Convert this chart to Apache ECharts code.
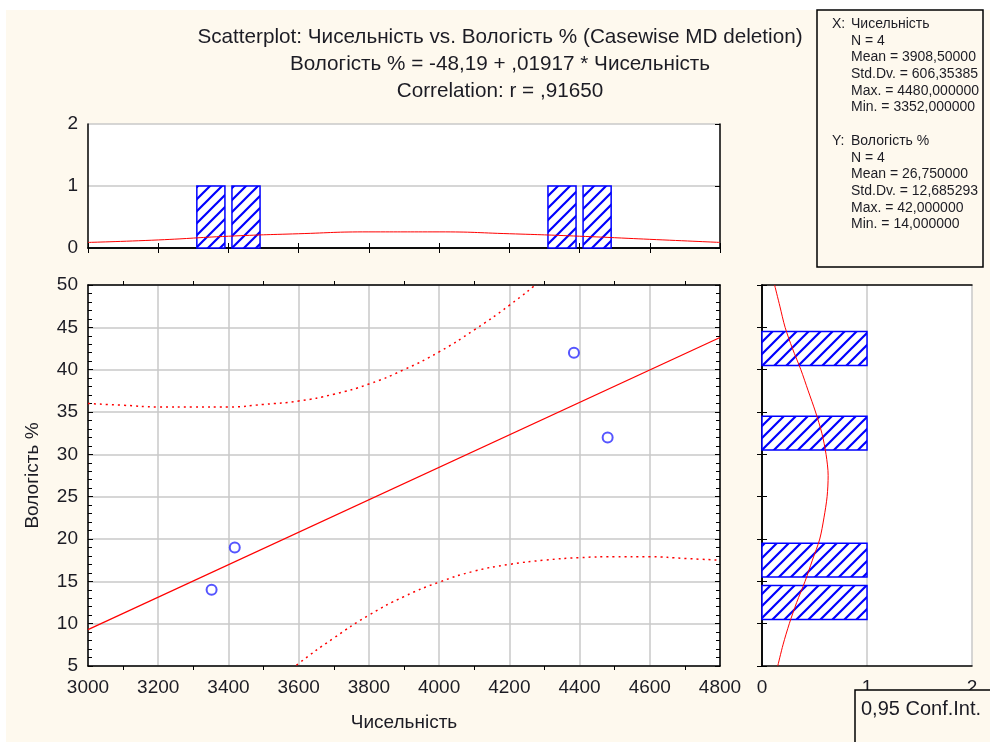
<!DOCTYPE html>
<html>
<head>
<meta charset="utf-8">
<script src="https://cdn.jsdelivr.net/npm/echarts/dist/echarts.min.js"></script>
<style>
  body { margin: 0; background: #fff; }
  .wrap { position: relative; width: 990px; height: 742px; }
  .bg { position: absolute; left: 6px; top: 10px; right: 0; bottom: 0; background: #fef9ee; }
  #scatter { position: absolute; left: 0; top: 0; width: 990px; height: 742px; }
</style>
</head>
<body>
<div class="wrap">
  <div class="bg"></div>
  <div id="scatter"></div>
</div>
<script>
// точки: Чисельність / Вологість %
const xVals = [3352, 3418, 4384, 4480]
const yVals = [14, 19, 42, 32]

// лінія регресії (кінці)
const fitX = [3000, 4800]
const fitY = [9.3, 43.8]

// 0,95 довірчий інтервал
const ciUpX = [3000, 3100, 3200, 3300, 3400, 3500, 3600, 3700, 3800, 3900, 4000, 4100, 4200, 4300, 4400]
const ciUp = [36.0, 35.8, 35.6, 35.6, 35.6, 35.9, 36.3, 37.1, 38.3, 40.0, 42.1, 44.7, 47.6, 50.9, 54.5]
const ciLoX = [3500, 3600, 3700, 3800, 3900, 4000, 4100, 4200, 4300, 4400, 4500, 4600, 4700, 4800]
const ciLo = [2.0, 5.3, 8.3, 11.0, 13.2, 14.9, 16.2, 17.0, 17.5, 17.8, 17.9, 17.9, 17.7, 17.5]

// гістограма X
const xBinLo = [3300, 3400, 4300, 4400]
const xBinHi = [3400, 3500, 4400, 4500]
const xCount = [1, 1, 1, 1]
const xCurveX = [3000, 3200, 3400, 3600, 3800, 4000, 4200, 4400, 4600, 4800]
const xCurve = [0.09, 0.13, 0.19, 0.23, 0.26, 0.26, 0.23, 0.19, 0.14, 0.09]

// гістограма Y
const yBinLo = [10, 15, 30, 40]
const yBinHi = [15, 20, 35, 45]
const yCount = [1, 1, 1, 1]
const yCurveY = [5, 7.5, 10, 12.5, 15, 17.5, 20, 22.5, 25, 27.5, 30, 32.5, 35, 37.5, 40, 42.5, 45, 47.5, 50]
const yCurve = [0.15, 0.2, 0.26, 0.33, 0.41, 0.48, 0.55, 0.59, 0.62, 0.63, 0.61, 0.57, 0.51, 0.44, 0.37, 0.29, 0.22, 0.17, 0.12]

const titleLines = [
  'Scatterplot: Чисельність vs. Вологість % (Casewise MD deletion)',
  'Вологість % = -48,19 + ,01917 * Чисельність',
  'Correlation: r = ,91650'
]
const statsX = ['N = 4', 'Mean = 3908,500000', 'Std.Dv. = 606,35385', 'Max. = 4480,000000', 'Min. = 3352,000000']
const statsY = ['N = 4', 'Mean = 26,750000', 'Std.Dv. = 12,685293', 'Max. = 42,000000', 'Min. = 14,000000']

const FONT = '"Liberation Sans", Arial, sans-serif'
const TXT = '#1c1c24'
const GRIDC = '#c8c8c8'

// штрихування стовпців
const hatch = (() => {
  const s = 12
  const c = document.createElement('canvas')
  c.width = s; c.height = s
  const g = c.getContext('2d')
  g.fillStyle = '#fff'
  g.fillRect(0, 0, s, s)
  g.strokeStyle = '#0000ff'
  g.lineWidth = 2.2
  g.beginPath()
  g.moveTo(0, s); g.lineTo(s, 0)
  g.moveTo(-3, 3); g.lineTo(3, -3)
  g.moveTo(s - 3, s + 3); g.lineTo(s + 3, s - 3)
  g.stroke()
  return { image: c, repeat: 'repeat' }
})()

const getEcharts = () => {
  const chartDom = document.getElementById('scatter')
  const myChart = echarts.init(chartDom, null, { renderer: 'canvas' })

  const lbl = { color: TXT, fontSize: 19, fontFamily: FONT, formatter: v => String(v) }
  const frame = { show: true, lineStyle: { color: '#000', width: 1.5 } }
  const noLbl = { show: false }

  const graphic = []
  titleLines.forEach((t, i) => {
    graphic.push({
      type: 'text', x: 500, y: 37 + i * 27, z: 50,
      style: { text: t, fill: TXT, font: '20.7px ' + FONT, textAlign: 'center', textVerticalAlign: 'middle' }
    })
  })
  // блок зі статистикою
  graphic.push({
    type: 'rect', z: 40, shape: { x: 817, y: 10, width: 166, height: 257 },
    style: { fill: '#fef9ee', stroke: '#000', lineWidth: 1.5 }
  })
  const statLine = (text, x, y) => ({
    type: 'text', x, y, z: 50,
    style: {
      text, fill: TXT, font: '14px ' + FONT, textVerticalAlign: 'middle',
      width: 983 - x, overflow: 'truncate', ellipsis: ''
    }
  })
  graphic.push(statLine('X:', 832, 24), statLine('Чисельність', 851, 24))
  statsX.forEach((t, i) => graphic.push(statLine(t, 851, 41 + i * 16.6)))
  graphic.push(statLine('Y:', 832, 141), statLine('Вологість %', 851, 141))
  statsY.forEach((t, i) => graphic.push(statLine(t, 851, 158 + i * 16.6)))
  // 0,95 Conf.Int.
  graphic.push({
    type: 'rect', z: 40, shape: { x: 855, y: 690, width: 140, height: 60 },
    style: { fill: '#fef9ee', stroke: '#000', lineWidth: 1.5 }
  })
  graphic.push({
    type: 'text', x: 861, y: 709, z: 50,
    style: { text: '0,95 Conf.Int.', fill: TXT, font: '20px ' + FONT, textVerticalAlign: 'middle' }
  })

  const option = {
    animation: false,
    graphic,
    grid: [
      { left: 88, top: 124, width: 632, height: 124, show: true, backgroundColor: '#fff', borderWidth: 0 },
      { left: 88, top: 285, width: 632, height: 381, show: true, backgroundColor: '#fff', borderWidth: 0 },
      { left: 762, top: 285, width: 210, height: 381, show: true, backgroundColor: '#fff', borderWidth: 0 }
    ],
    xAxis: [
      // верхня гістограма
      { gridIndex: 0, type: 'value', min: 3000, max: 4800, interval: 200, position: 'bottom',
        axisLine: frame, axisTick: { inside: true, length: 5, lineStyle: { color: '#000' } },
        axisLabel: noLbl, splitLine: { show: false } },
      { gridIndex: 0, type: 'value', min: 3000, max: 4800, interval: 200, position: 'top',
        axisLine: frame, axisTick: { inside: true, length: 5, lineStyle: { color: '#000' } },
        axisLabel: noLbl, splitLine: { show: false } },
      // діаграма розсіювання
      { gridIndex: 1, type: 'value', min: 3000, max: 4800, interval: 200, position: 'bottom',
        name: 'Чисельність', nameLocation: 'middle', nameGap: 47,
        nameTextStyle: { color: TXT, fontSize: 19, fontFamily: FONT },
        axisLine: frame, axisTick: { show: false },
        minorTick: { show: true, splitNumber: 2, length: 4, lineStyle: { color: '#000' } },
        axisLabel: { ...lbl, margin: 12 },
        splitLine: { show: true, lineStyle: { color: GRIDC, width: 1.5 } } },
      { gridIndex: 1, type: 'value', min: 3000, max: 4800, interval: 200, position: 'top',
        axisLine: frame, axisTick: { show: false },
        minorTick: { show: true, splitNumber: 2, length: 4, lineStyle: { color: '#000' } },
        axisLabel: noLbl, splitLine: { show: false } },
      // права гістограма
      { gridIndex: 2, type: 'value', min: 0, max: 2, interval: 1, position: 'bottom',
        axisLine: frame, axisTick: { show: false },
        axisLabel: { ...lbl, margin: 12 },
        splitLine: { show: true, lineStyle: { color: GRIDC, width: 1.5 } } },
      { gridIndex: 2, type: 'value', min: 0, max: 2, interval: 1, position: 'top',
        axisLine: frame, axisTick: { show: false }, axisLabel: noLbl, splitLine: { show: false } }
    ],
    yAxis: [
      { gridIndex: 0, type: 'value', min: 0, max: 2, interval: 1, position: 'left',
        axisLine: frame, axisTick: { show: false },
        axisLabel: { ...lbl, margin: 10 },
        splitLine: { show: true, lineStyle: { color: GRIDC, width: 1.5 } } },
      { gridIndex: 0, type: 'value', min: 0, max: 2, interval: 1, position: 'right',
        axisLine: frame, axisTick: { inside: true, length: 5, lineStyle: { color: '#000' } },
        axisLabel: noLbl, splitLine: { show: false } },
      { gridIndex: 1, type: 'value', min: 5, max: 50, interval: 5, position: 'left',
        name: 'Вологість %', nameLocation: 'middle', nameGap: 46, nameRotate: 90,
        nameTextStyle: { color: TXT, fontSize: 19, fontFamily: FONT },
        axisLine: frame, axisTick: { inside: true, length: 5, lineStyle: { color: '#000' } },
        minorTick: { show: true, splitNumber: 5, length: 4, lineStyle: { color: '#000' } },
        axisLabel: { ...lbl, margin: 10 },
        splitLine: { show: true, lineStyle: { color: GRIDC, width: 1.5 } } },
      { gridIndex: 1, type: 'value', min: 5, max: 50, interval: 5, position: 'right',
        axisLine: frame, axisTick: { inside: true, length: 5, lineStyle: { color: '#000' } },
        minorTick: { show: true, splitNumber: 5, length: 4, lineStyle: { color: '#000' } },
        axisLabel: noLbl, splitLine: { show: false } },
      { gridIndex: 2, type: 'value', min: 5, max: 50, interval: 5, position: 'left',
        axisLine: frame, axisTick: { inside: true, length: 5, lineStyle: { color: '#000' } },
        axisLabel: noLbl, splitLine: { show: false } },
      { gridIndex: 2, type: 'value', min: 5, max: 50, interval: 5, position: 'right',
        axisLine: frame, axisTick: { inside: true, length: 5, lineStyle: { color: '#000' } },
        axisLabel: noLbl, splitLine: { show: false } }
    ],
    series: [
      {
        // гістограма Чисельність
        type: 'custom', xAxisIndex: 0, yAxisIndex: 0,
        data: xBinLo.map((lo, i) => [lo, xBinHi[i], xCount[i]]),
        renderItem: (params, api) => {
          const lo = api.value(0), hi = api.value(1), n = api.value(2)
          const pad = (hi - lo) * 0.1
          const a = api.coord([lo + pad, n])
          const b = api.coord([hi - pad, 0])
          return {
            type: 'rect',
            shape: { x: a[0], y: a[1], width: b[0] - a[0], height: b[1] - a[1] },
            style: { fill: hatch, stroke: '#0000ff', lineWidth: 1.5 }
          }
        }
      },
      {
        type: 'line', xAxisIndex: 0, yAxisIndex: 0, smooth: true, showSymbol: false, z: 5,
        lineStyle: { color: '#ff0000', width: 1 },
        data: xCurveX.map((x, i) => [x, xCurve[i]])
      },
      {
        // гістограма Вологість %
        type: 'custom', xAxisIndex: 4, yAxisIndex: 4,
        data: yBinLo.map((lo, i) => [yCount[i], lo, yBinHi[i]]),
        encode: { x: 0, y: 1 },
        renderItem: (params, api) => {
          const n = api.value(0), lo = api.value(1), hi = api.value(2)
          const pad = (hi - lo) * 0.1
          const a = api.coord([n, hi - pad])
          const b = api.coord([0, lo + pad])
          return {
            type: 'rect',
            shape: { x: b[0], y: a[1], width: a[0] - b[0], height: b[1] - a[1] },
            style: { fill: hatch, stroke: '#0000ff', lineWidth: 1.5 }
          }
        }
      },
      {
        type: 'line', xAxisIndex: 4, yAxisIndex: 4, smooth: 0.3, showSymbol: false, z: 5,
        lineStyle: { color: '#ff0000', width: 1 },
        data: yCurveY.map((y, i) => [yCurve[i], y])
      },
      {
        type: 'line', xAxisIndex: 2, yAxisIndex: 2, showSymbol: false,
        lineStyle: { color: '#ff0000', width: 1.2 },
        data: fitX.map((x, i) => [x, fitY[i]])
      },
      {
        type: 'line', xAxisIndex: 2, yAxisIndex: 2, smooth: true, showSymbol: false,
        lineStyle: { color: '#ff0000', width: 1.5, type: [2, 4] },
        data: ciUpX.map((x, i) => [x, ciUp[i]])
      },
      {
        type: 'line', xAxisIndex: 2, yAxisIndex: 2, smooth: true, showSymbol: false,
        lineStyle: { color: '#ff0000', width: 1.5, type: [2, 4] },
        data: ciLoX.map((x, i) => [x, ciLo[i]])
      },
      {
        type: 'scatter', xAxisIndex: 2, yAxisIndex: 2, z: 6,
        symbol: 'emptyCircle', symbolSize: 10,
        itemStyle: { color: '#2a2aff', borderWidth: 1.5 },
        data: xVals.map((x, i) => [x, yVals[i]])
      }
    ]
  }
  option && myChart.setOption(option)
}
getEcharts()
</script>
</body>
</html>
